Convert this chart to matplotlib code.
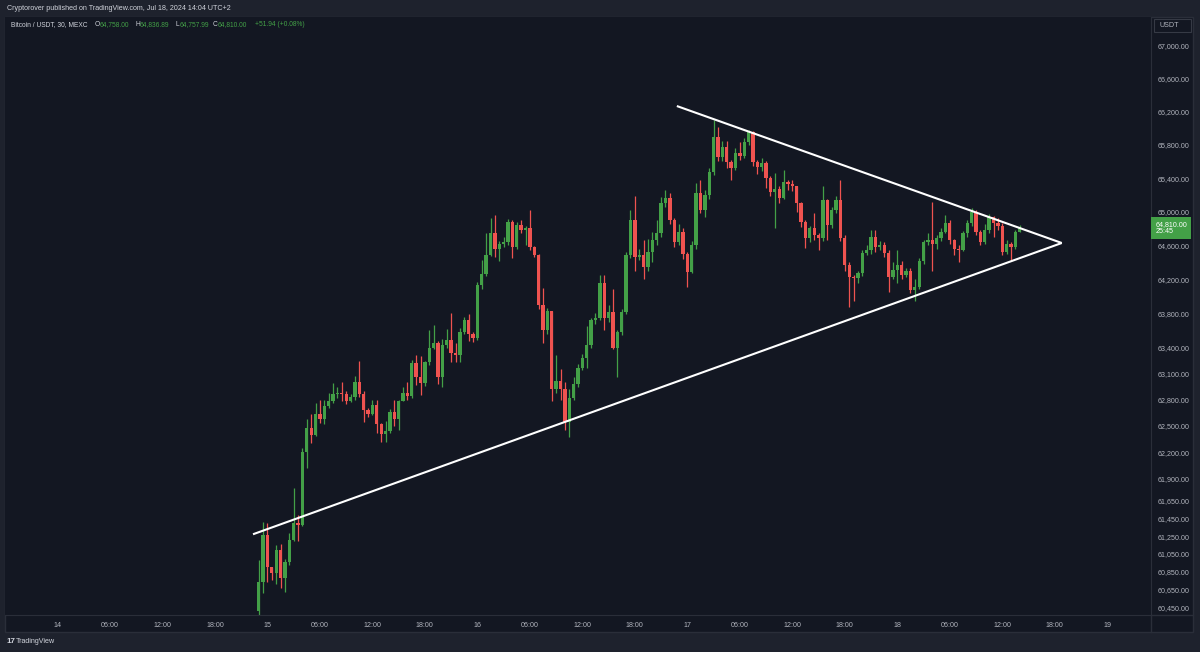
import matplotlib
matplotlib.use("Agg")
import matplotlib.pyplot as plt
import matplotlib.transforms as mtransforms
from matplotlib.patches import Rectangle
from matplotlib.lines import Line2D
from matplotlib.ticker import FixedLocator, NullLocator, NullFormatter

# BTC/USDT 30m candles, first candle Jul 14 23:00 (UTC+2)
first_hour = 23.0
interval = 0.5
first_open = 60420

closes = [
    60740, 61260, 60900, 60840, 61100, 60780, 60960, 61210, 61400, 61370,
    62200, 62470, 62400, 62640, 62580, 62730, 62790, 62870, 62880, 62860,
    62790, 62830, 63000, 62870, 62680, 62640, 62740, 62520, 62410, 62440,
    62660, 62580, 62780, 62880, 62840, 63220, 63060, 62990, 63230, 63400,
    63450, 63060, 63430, 63490, 63340, 63310, 63580, 63720, 63560, 63510,
    64130, 64260, 64480, 64750, 64560, 64610, 64640, 64880, 64580, 64840,
    64780, 64800, 64580, 64480, 63900, 63600, 63830, 62920, 63020, 62920,
    62540, 62820, 62980, 63160, 63280, 63430, 63720, 63740, 64150, 63740,
    63810, 63400, 63580, 63810, 64480, 64900, 64460, 64480, 64340, 64520,
    64660, 64745, 65100, 65160, 64900, 64640, 64760, 64500, 64290, 64600,
    65220, 65020, 65200, 65470, 65890, 65650, 65770, 65590, 65520, 65700,
    65670, 65830, 65950, 65590, 65530, 65580, 65400, 65230, 65270, 65160,
    65350, 65330, 65300, 65100, 64880, 64690, 64800, 64720, 64690, 65140,
    64840, 65020, 65140, 64690, 64370, 64230, 64210, 64270, 64510, 64540,
    64700, 64580, 64600, 64510, 64230, 64310, 64370, 64250, 64300, 64070,
    64110, 64420, 64640, 64660, 64620, 64690, 64760, 64860, 64660, 64560,
    64550, 64740, 64860, 65000, 64760, 64640, 64780, 64930, 64860, 64830,
    64520, 64620, 64580, 64758, 64810]

highs = [
    60980, 61410, 61400, 60910, 61150, 61160, 60990, 61280, 61790, 61490,
    62250, 62580, 62640, 62760, 62800, 62800, 62880, 62990, 62950, 63000,
    62900, 62860, 63070, 63240, 62900, 62700, 62800, 62800, 62530, 62560,
    62690, 62800, 62800, 62940, 63000, 63260, 63320, 63300, 63240, 63600,
    63660, 63480, 63500, 63620, 63800, 63460, 63630, 63760, 63790, 63580,
    64170, 64430, 64750, 64920, 64960, 64650, 64700, 64910, 64900, 64880,
    64900, 64830, 65020, 64590, 64500, 64100, 63860, 63830, 63310, 63150,
    63000, 62920, 63060, 63210, 63330, 63650, 63750, 63800, 64250, 64250,
    63900, 64080, 63600, 63850, 64520, 65020, 65180, 64560, 64660, 64680,
    64760, 64900, 65170, 65260, 65220, 64920, 64850, 64800, 64520, 64650,
    65340, 65380, 65260, 65520, 66100, 66010, 65850, 65850, 65620, 65760,
    65830, 65880, 65980, 65960, 65620, 65640, 65600, 65420, 65460, 65300,
    65500, 65380, 65380, 65310, 65110, 64900, 64830, 64980, 64740, 65300,
    65150, 65060, 65180, 65380, 64720, 64400, 64250, 64300, 64540, 64600,
    64780, 64780, 64650, 64640, 64540, 64400, 64550, 64420, 64330, 64330,
    64200, 64450, 64660, 64740, 65110, 64720, 64800, 64960, 64900, 64680,
    64600, 64770, 64900, 65040, 65020, 64780, 64850, 64970, 64950, 64920,
    64860, 64660, 64640, 64780, 64837]

lows = [
    60370, 60620, 60740, 60760, 60720, 60670, 60630, 60930, 61190, 61190,
    61360, 62020, 62300, 62380, 62530, 62520, 62700, 62760, 62820, 62780,
    62750, 62770, 62800, 62830, 62545, 62600, 62620, 62420, 62310, 62310,
    62420, 62500, 62450, 62780, 62800, 62820, 62970, 62850, 62960, 63200,
    63380, 62980, 62950, 63400, 63230, 63230, 63230, 63560, 63480, 63470,
    63490, 64090, 64240, 64470, 64460, 64420, 64580, 64600, 64450, 64560,
    64750, 64600, 64540, 64460, 63850, 63460, 63560, 62780, 62880, 62800,
    62450, 62370, 62800, 62950, 63140, 63160, 63400, 63680, 63720, 63610,
    63700, 63380, 63060, 63550, 63790, 64450, 64300, 64430, 64200, 64300,
    64400, 64600, 64700, 65050, 64850, 64580, 64600, 64440, 64110, 64270,
    64560, 64980, 64935, 65150, 65440, 65600, 65600, 65520, 65380, 65500,
    65620, 65640, 65800, 65540, 65450, 65480, 65280, 65180, 64800, 65100,
    65150, 65260, 65240, 65000, 64820, 64567, 64640, 64660, 64544, 64650,
    64660, 64800, 64980, 64650, 64300, 63876, 63950, 64150, 64240, 64480,
    64500, 64520, 64550, 64460, 64050, 64200, 64150, 64200, 64220, 64040,
    63940, 64080, 64380, 64600, 64300, 64560, 64650, 64740, 64620, 64480,
    64400, 64530, 64700, 64830, 64720, 64600, 64620, 64740, 64700, 64780,
    64480, 64500, 64420, 64560, 64758]

# trend lines (hours since Jul 14 00:00, price)
lower_line_t = [22.35, 114.8]
lower_line_p = [61271, 64627]
upper_line_t = [70.8, 114.8]
upper_line_p = [66268, 64627]

price_ticks = [60450, 60650, 60850, 61050, 61250, 61450, 61650, 61900, 62200,
               62500, 62800, 63100, 63400, 63800, 64200, 64600, 65000, 65400,
               65800, 66200, 66600, 67000]
time_ticks = [0, 6, 12, 18, 24, 30, 36, 42, 48, 54, 60, 66, 72, 78, 84, 90,
              96, 102, 108, 114, 120]
time_labels = ["14", "06:00", "12:00", "18:00", "15", "06:00", "12:00", "18:00",
               "16", "06:00", "12:00", "18:00", "17", "06:00", "12:00", "18:00",
               "18", "06:00", "12:00", "18:00", "19"]

BG = "#131722"
OUTER = "#1e222d"
BORDER = "#2a2e39"
TXT = "#b2b5be"
GREEN = "#43a047"
RED = "#ef5350"
FONT = "Liberation Sans"
FS = 5.1

W, H = 1200, 652
fig = plt.figure(figsize=(12, 6.52), dpi=100, facecolor=OUTER)


def fx(px):
    return px / W


def fy(py):
    return 1 - py / H


fig.patches.append(Rectangle((fx(5), fy(632)), fx(1193) - fx(5), fy(17) - fy(632),
                             transform=fig.transFigure, fc=BG, ec=BORDER, lw=1,
                             zorder=-5))

ax = fig.add_axes([fx(5), fy(615), fx(1151) - fx(5), fy(17) - fy(615)])
ax.set_facecolor(BG)
ax.set_yscale("log")
ax.set_xlim(-6, 125)
ax.set_ylim(60372, 67357)

opens = [first_open] + closes[:-1]
times = [first_hour + interval * i for i in range(len(closes))]
for t, o, c, h, l in zip(times, opens, closes, highs, lows):
    col = GREEN if c >= o else RED
    ax.vlines(t, min(l, o, c), max(h, o, c), color=col, lw=0.9, zorder=2)
    ax.bar(t, max(abs(c - o), 6), bottom=min(o, c), width=0.38, color=col,
           lw=0, zorder=3)

ax.plot(lower_line_t, lower_line_p, color="white", lw=1.5, zorder=4,
        solid_capstyle="butt")
ax.plot(upper_line_t, upper_line_p, color="white", lw=1.5, zorder=4,
        solid_capstyle="butt")

for s in ["top", "left"]:
    ax.spines[s].set_visible(False)
ax.spines["right"].set_color(BORDER)
ax.spines["bottom"].set_color(BORDER)

ax.yaxis.tick_right()
ax.yaxis.set_major_locator(FixedLocator(price_ticks))
ax.yaxis.set_minor_locator(NullLocator())
ax.yaxis.set_minor_formatter(NullFormatter())
ax.set_yticklabels([f"{p:,.2f}" for p in price_ticks])
ax.set_xticks(time_ticks)
ax.set_xticklabels(time_labels)
ax.tick_params(axis="both", length=0, colors=TXT, labelsize=FS)
ax.tick_params(axis="y", pad=5)
ax.tick_params(axis="x", pad=5)
for lab in ax.get_xticklabels() + ax.get_yticklabels():
    lab.set_fontfamily(FONT)

# axis separators
fig.add_artist(Line2D([fx(1151), fx(1151)], [fy(615), fy(632)], color=BORDER, lw=1))
fig.add_artist(Line2D([fx(1151), fx(1193)], [fy(615), fy(615)], color=BORDER, lw=1))

# last price tag
last = closes[-1]
trans = mtransforms.blended_transform_factory(ax.transAxes, ax.transData)
ax.annotate(f"{last:,.2f}\n25:45", xy=(1.0, last), xycoords=trans,
            xytext=(3, 5), textcoords="offset points", va="top", ha="left",
            fontsize=FS, family=FONT, color="white", linespacing=1.1,
            annotation_clip=False, zorder=6,
            bbox=dict(boxstyle="square,pad=0.55", fc=GREEN, ec="none"))

# USDT box
fig.patches.append(Rectangle((fx(1154), fy(32)), fx(1191) - fx(1154), fy(19) - fy(32),
                             transform=fig.transFigure, fc=BG, ec="#363a45", lw=0.8))
fig.text(fx(1160), fy(25.5), "USDT", color=TXT, fontsize=FS, family=FONT, va="center")

# header and legend
fig.text(fx(7), fy(8.5), "Cryptorover published on TradingView.com, Jul 18, 2024 14:04 UTC+2",
         color="#d1d4dc", fontsize=FS, family=FONT, va="center")
fig.text(fx(11), fy(25), "Bitcoin / USDT, 30, MEXC", color="#d1d4dc", fontsize=4.8,
         family=FONT, va="center")
legend_items = [("O", "64,758.00", 95), ("H", "64,836.89", 135),
                ("L", "64,757.99", 175), ("C", "64,810.00", 213)]
for key, val, px in legend_items:
    fig.text(fx(px), fy(25), key, color="#d1d4dc", fontsize=4.8, family=FONT,
             va="center")
    fig.text(fx(px + 4.5), fy(25), val, color=GREEN, fontsize=4.8, family=FONT,
             va="center")
fig.text(fx(255), fy(25), "+51.94 (+0.08%)", color=GREEN, fontsize=4.8, family=FONT,
         va="center")

# footer
fig.text(fx(6), fy(641.5), "17", color="#d1d4dc", fontsize=5.8, family=FONT,
         va="center", weight="bold")
fig.text(fx(16), fy(641.5), "TradingView", color="#d1d4dc", fontsize=FS,
         family=FONT, va="center")

fig.savefig("out.png", dpi=100, facecolor=OUTER)
